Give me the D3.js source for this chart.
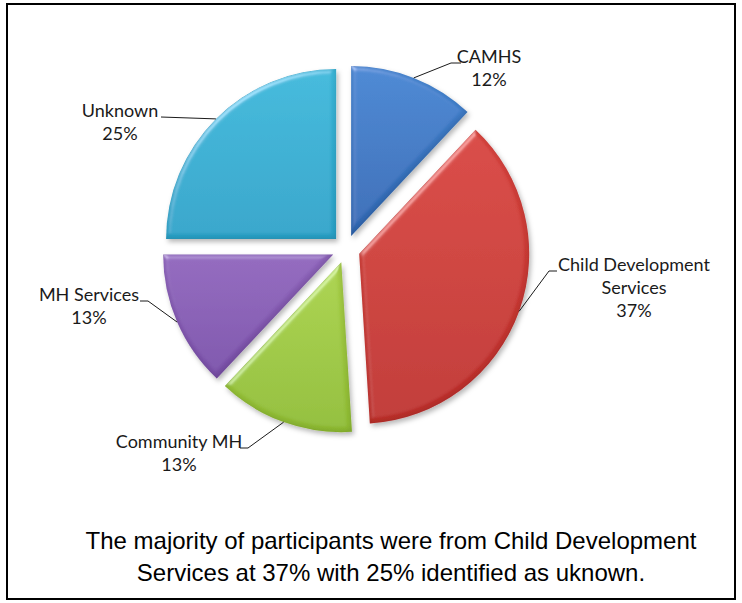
<!DOCTYPE html>
<html>
<head>
<meta charset="utf-8">
<script src="https://cdn.jsdelivr.net/npm/d3@7"></script>
<style>
  html, body { margin: 0; padding: 0; background: #ffffff; }
  svg { display: block; }
</style>
</head>
<body>
<svg id="chart" width="742" height="603"></svg>
<script>
// Referral source breakdown (percent of participants)
const categories = ["CAMHS", "Child Development Services", "Community MH", "MH Services", "Unknown"];
const values = [12, 37, 13, 13, 25];
const labelLines = [["CAMHS"], ["Child Development", "Services"], ["Community MH"], ["MH Services"], ["Unknown"]];
const sliceColors = [
  ["#4586d2", "#3269b5"],
  ["#d8443e", "#bf302c"],
  ["#aad24a", "#90bd33"],
  ["#9066bd", "#7b50aa"],
  ["#3bb8da", "#2ba3c9"]
];
const captionLines = [
  "The majority of participants were from Child Development",
  "Services at 37% with 25% identified as uknown."
];

// Layout
const W = 742, H = 603;
const cx = 346, cy = 249, radius = 170, explode = 14;
const labelFont = "Lato, 'Open Sans', sans-serif";
const labelSize = 18;
const lineGap = 23;
// label anchor (text centre x, first baseline y) and the elbow of the leader line
const labelLayout = [
  { x: 489, y: 63,  elbow: [451, 63],  end: [461, 63] },
  { x: 634, y: 271, elbow: [549, 271], end: [557, 271] },
  { x: 179, y: 448, elbow: [248, 448], end: [240, 448] },
  { x: 89,  y: 301, elbow: [148, 301], end: [140, 301] },
  { x: 120, y: 117, elbow: null,       end: [161, 117] }
];

const svg = d3.select("#chart");
const defs = svg.append("defs");

// Soft bevel + drop shadow for the slices
const f = defs.append("filter").attr("id", "bevel")
  .attr("x", "-15%").attr("y", "-15%").attr("width", "135%").attr("height", "135%");
f.append("feGaussianBlur").attr("in", "SourceAlpha").attr("stdDeviation", 2.5).attr("result", "blur");
const spec = f.append("feSpecularLighting").attr("in", "blur").attr("surfaceScale", 2)
  .attr("specularConstant", 0.3).attr("specularExponent", 35)
  .attr("lighting-color", "#ffffff").attr("result", "spec");
spec.append("feDistantLight").attr("azimuth", 235).attr("elevation", 45);
f.append("feComposite").attr("in", "spec").attr("in2", "SourceAlpha").attr("operator", "in").attr("result", "specIn");
// inner shadow on the lower/right edges
f.append("feComponentTransfer").attr("in", "SourceAlpha").attr("result", "inv")
  .append("feFuncA").attr("type", "table").attr("tableValues", "1 0");
f.append("feGaussianBlur").attr("in", "inv").attr("stdDeviation", 3).attr("result", "invBlur");
f.append("feOffset").attr("in", "invBlur").attr("dx", -1.5).attr("dy", -2.5).attr("result", "invOff");
f.append("feComposite").attr("in", "invOff").attr("in2", "SourceAlpha").attr("operator", "in").attr("result", "innerA");
f.append("feFlood").attr("flood-color", "#000000").attr("flood-opacity", 0.3).attr("result", "dark");
f.append("feComposite").attr("in", "dark").attr("in2", "innerA").attr("operator", "in").attr("result", "inner");
f.append("feComposite").attr("in", "SourceGraphic").attr("in2", "specIn").attr("operator", "arithmetic")
  .attr("k1", 0).attr("k2", 1).attr("k3", 1).attr("k4", 0).attr("result", "lit");
f.append("feComposite").attr("in", "inner").attr("in2", "lit").attr("operator", "over").attr("result", "body");
// outer drop shadow
f.append("feGaussianBlur").attr("in", "SourceAlpha").attr("stdDeviation", 2.5).attr("result", "sblur");
f.append("feOffset").attr("in", "sblur").attr("dx", 2).attr("dy", 3).attr("result", "soff");
f.append("feFlood").attr("flood-color", "#000000").attr("flood-opacity", 0.28).attr("result", "sflood");
f.append("feComposite").attr("in", "sflood").attr("in2", "soff").attr("operator", "in").attr("result", "shadow");
const merge = f.append("feMerge");
merge.append("feMergeNode").attr("in", "shadow");
merge.append("feMergeNode").attr("in", "body");

sliceColors.forEach((c, i) => {
  const g = defs.append("linearGradient").attr("id", "grad" + i)
    .attr("x1", 0).attr("y1", 0).attr("x2", 0).attr("y2", 1);
  g.append("stop").attr("offset", "0%").attr("stop-color", c[0]);
  g.append("stop").attr("offset", "100%").attr("stop-color", c[1]);
});

// Frame
svg.append("rect")
  .attr("x", 7).attr("y", 4).attr("width", 728).attr("height", 595)
  .attr("fill", "#ffffff").attr("stroke", "#000000").attr("stroke-width", 2);

const total = d3.sum(values);
const pct = d3.format(".0%");
const pie = d3.pie().sort(null).value(d => d);
const arcs = pie(values);
const arc = d3.arc().innerRadius(0).outerRadius(radius);

const gPie = svg.append("g").attr("transform", `translate(${cx},${cy})`);
const mid = a => (a.startAngle + a.endAngle) / 2;

gPie.selectAll("path.slice")
  .data(arcs)
  .join("path")
  .attr("class", "slice")
  .attr("transform", a => `translate(${Math.sin(mid(a)) * explode},${-Math.cos(mid(a)) * explode})`)
  .attr("d", arc)
  .attr("fill", (a, i) => `url(#grad${i})`)
  .attr("filter", "url(#bevel)");

// Leader lines from each slice's outer edge to its label
const gLab = svg.append("g");
arcs.forEach((a, i) => {
  const L = labelLayout[i];
  const m = mid(a);
  const p0 = [cx + Math.sin(m) * (radius + explode), cy - Math.cos(m) * (radius + explode)];
  const pts = [p0];
  if (L.elbow) pts.push(L.elbow);
  pts.push(L.end);
  gLab.append("path")
    .attr("d", d3.line()(pts))
    .attr("fill", "none")
    .attr("stroke", "#1a1a1a")
    .attr("stroke-width", 1);

  const lines = labelLines[i].concat([pct(values[i] / total)]);
  const t = gLab.append("text")
    .attr("font-family", labelFont)
    .attr("font-size", labelSize)
    .attr("fill", "#1a1a1a")
    .attr("text-anchor", "middle");
  lines.forEach((s, k) => {
    t.append("tspan").attr("x", L.x).attr("y", L.y + k * lineGap).text(s);
  });
});

// Caption
const cap = svg.append("text")
  .attr("font-family", "'Liberation Sans', Arial, sans-serif")
  .attr("font-size", 24)
  .attr("fill", "#000000")
  .attr("text-anchor", "middle");
captionLines.forEach((s, k) => {
  cap.append("tspan").attr("x", 391).attr("y", 549 + k * 32).text(s);
});
</script>
</body>
</html>
